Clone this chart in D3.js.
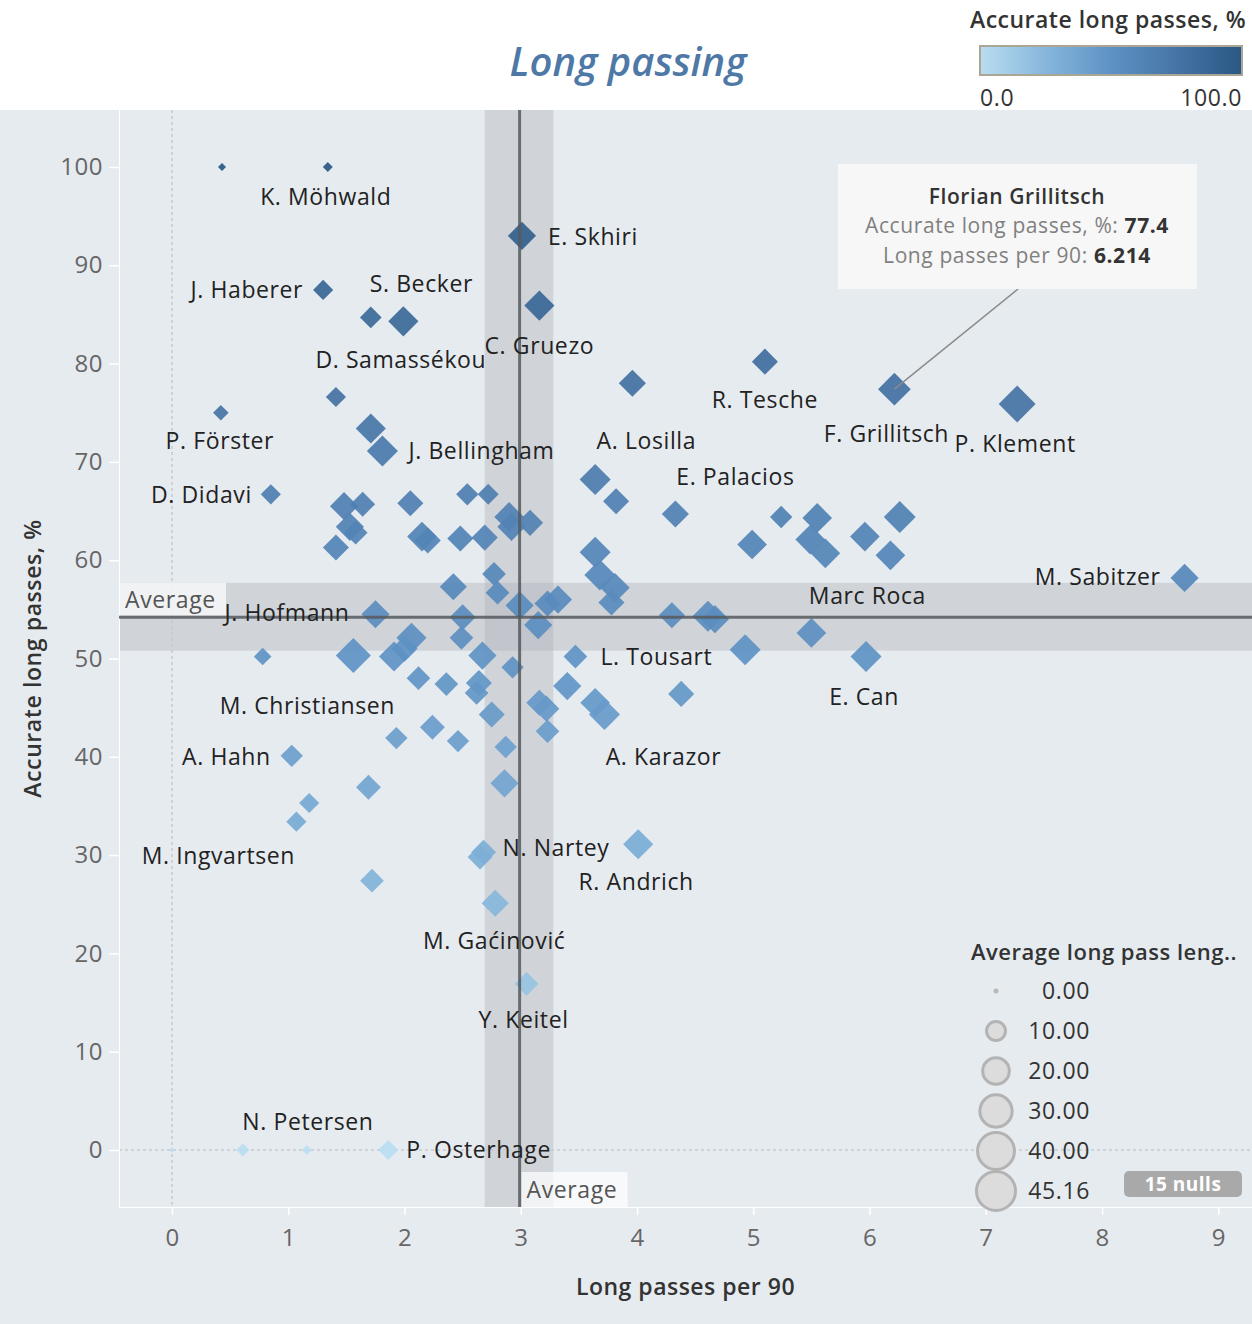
<!DOCTYPE html>
<html><head><meta charset="utf-8">
<script src="https://cdn.jsdelivr.net/npm/d3@7"></script>
<style>
body{margin:0;background:#fff;}
svg{display:block;font-family:"Open Sans",sans-serif;}
</style></head><body>
<svg id="c" width="1252" height="1324"></svg>
<script>
// ---------------- DATA ----------------
const longPasses = [0.43,1.34,3.01,1.30,1.71,1.99,3.16,5.10,3.96,6.214,7.27,1.41,0.42,1.71,1.81,0.85,3.64,3.82,4.33,5.24,5.55,5.49,5.62,4.99,5.96,6.26,6.18,8.71,5.50,5.97,4.30,4.61,4.67,4.93,4.38,4.01,
  3.08,2.90,2.92,2.54,2.72,2.05,1.48,1.64,1.53,1.58,1.41,2.15,2.20,2.48,2.69,3.64,3.68,3.81,3.78,2.77,2.80,2.42,2.50,2.49,2.99,3.23,3.32,3.15,2.67,2.93,3.47,1.75,0.78,1.56,1.91,2.06,2.00,2.12,2.36,2.64,2.62,2.75,3.16,3.22,3.23,3.40,3.64,3.72,2.24,1.93,2.46,2.87,2.86,1.03,1.69,1.18,1.07,2.68,2.65,1.72,2.78,3.05,0.00,0.61,1.16,1.86];
const accuracy = [100,100,93.0,87.5,84.7,84.3,85.9,80.2,78.0,77.4,75.9,76.6,75.0,73.4,71.1,66.7,68.2,66.0,64.7,64.4,64.3,62.1,60.7,61.6,62.4,64.4,60.5,58.2,52.6,50.2,54.4,54.3,54.0,50.9,46.4,31.1,
  63.8,64.4,63.4,66.7,66.7,65.8,65.5,65.7,63.4,62.8,61.3,62.4,62.0,62.2,62.3,60.8,58.5,57.2,55.7,58.6,56.7,57.3,54.2,52.1,55.4,55.6,56.0,53.4,50.3,49.1,50.2,54.5,50.2,50.3,50.2,52.1,51.0,48.0,47.4,47.5,46.5,44.3,45.5,44.9,42.6,47.2,45.5,44.3,43.0,41.9,41.6,41.0,37.3,40.1,36.9,35.3,33.4,30.3,29.8,27.4,25.1,16.9,0,0,0,0];
const avgLength = [1.3,2.1,24,11,13,28,28,20,22,34,45,11,6,28,30,11,30,20,22,14,27,27,27,27,27,32,27,24,27,30,20,30,24,30,20,28,
  20,27,24,14,12,20,24,18,24,16,20,27,20,20,20,30,30,27,20,16,16,22,20,16,24,20,24,24,24,14,16,24,8,40,28,28,20,16,16,20,16,20,20,20,16,24,27,30,18,14,14,14,24,14,18,11,11,18,18,16,22,16,0.5,4,2,11];
const playerNames = ["","K. Möhwald","E. Skhiri","J. Haberer","D. Samassékou","S. Becker","C. Gruezo","R. Tesche","A. Losilla","F. Grillitsch","P. Klement","","P. Förster","","J. Bellingham","D. Didavi","","","E. Palacios","","","","","","","","","M. Sabitzer","Marc Roca","E. Can","","","","","","R. Andrich",
  "","","","","","","","","","","","","","","","","","","","","","","","","","","","","","","L. Tousart","J. Hofmann","","M. Christiansen","","","","","","","","","","","","","","A. Karazor","","","","","","A. Hahn","","","M. Ingvartsen","N. Nartey","","","M. Gaćinović","Y. Keitel","","N. Petersen","","P. Osterhage"];

const xTicks = [0,1,2,3,4,5,6,7,8,9];
const yTicks = [0,10,20,30,40,50,60,70,80,90,100];
const sizeLegendValues = [0,10,20,30,40,45.16];
const colorLegendLabels = ["0.0","100.0"];
const averageX = 2.99, averageXBand = [2.69, 3.28];
const averageY = 54.2, averageYBand = [50.8, 57.7];
const highlightName = "F. Grillitsch";
const tooltipLines = [["Accurate long passes, %: ","77.4"],["Long passes per 90: ","6.214"]];
const nullsCount = 15;

// label placement (offsets from the mark, px)
const labelOffsets = {
  "K. Möhwald":[-2,30,"middle"],"E. Skhiri":[26,1,"start"],"J. Haberer":[-20,0,"end"],
  "S. Becker":[18,-37,"middle"],"D. Samassékou":[30,43,"middle"],"C. Gruezo":[0,40,"middle"],
  "R. Tesche":[0,38,"middle"],"F. Grillitsch":[-8,45,"middle"],"P. Klement":[-2,40,"middle"],
  "P. Förster":[-1,28,"middle"],"J. Bellingham":[26,0,"start"],"A. Losilla":[14,58,"middle"],
  "E. Palacios":[60,-37,"middle"],"D. Didavi":[-19,1,"end"],"M. Sabitzer":[-24,-1,"end"],
  "Marc Roca":[56,-37,"middle"],"J. Hofmann":[-26,-1,"end"],"L. Tousart":[25,0,"start"],
  "E. Can":[-2,40,"middle"],"M. Christiansen":[-46,50,"middle"],"A. Karazor":[59,42,"middle"],
  "A. Hahn":[-21,1,"end"],"M. Ingvartsen":[-78,34,"middle"],"N. Nartey":[19,-4,"start"],
  "R. Andrich":[-2,38,"middle"],"M. Gaćinović":[-1,38,"middle"],"Y. Keitel":[-3,36,"middle"],
  "N. Petersen":[65,-28,"middle"],"P. Osterhage":[18,0,"start"]
};

// ---------------- CHART ----------------
const W = 1252, H = 1324;
const pane = {l:119, r:1252, t:110, b:1207};
const svg = d3.select("#c");
const bg = "#e6ebf0";

const x = d3.scaleLinear().domain([-0.456, 9.29]).range([pane.l, pane.r]);
const y = d3.scaleLinear().domain([-5.8, 105.8]).range([pane.b, pane.t]);
const color = d3.scaleLinear().domain([0,30,50,75,100])
  .range(["#b9ddf1","#7dafd7","#5e92c4","#4674a6","#2a5783"]).interpolate(d3.interpolateRgb);
const legendDiam = d3.scalePow().exponent(0.43).domain([0,10]).range([0,22]);
const diag = v => Math.max(4, 0.88*legendDiam(v));

svg.append("rect").attr("width",W).attr("height",H).attr("fill",bg);
svg.append("rect").attr("width",W).attr("height",pane.t).attr("fill","#fff");

// bands
svg.append("rect").attr("x",x(averageXBand[0])).attr("width",x(averageXBand[1])-x(averageXBand[0]))
  .attr("y",pane.t).attr("height",pane.b-pane.t).attr("fill","#a9adb1").attr("opacity",0.36);
svg.append("rect").attr("y",y(averageYBand[1])).attr("height",y(averageYBand[0])-y(averageYBand[1]))
  .attr("x",pane.l).attr("width",pane.r-pane.l).attr("fill","#a9adb1").attr("opacity",0.36);

// zero lines
svg.append("line").attr("x1",x(0)).attr("x2",x(0)).attr("y1",pane.t).attr("y2",pane.b)
  .attr("stroke","#c6c9cc").attr("stroke-width",1.5).attr("stroke-dasharray","3,3");
svg.append("line").attr("x1",pane.l).attr("x2",pane.r).attr("y1",y(0)).attr("y2",y(0))
  .attr("stroke","#c6c9cc").attr("stroke-width",1.5).attr("stroke-dasharray","3,3");

// pane borders
svg.append("line").attr("x1",pane.l+0.5).attr("x2",pane.l+0.5).attr("y1",pane.t).attr("y2",pane.b).attr("stroke","#fff");
svg.append("line").attr("x1",pane.l).attr("x2",pane.r).attr("y1",pane.b+0.5).attr("y2",pane.b+0.5).attr("stroke","#fff");

// axes
const xAxis = svg.append("g").attr("transform",`translate(0,${pane.b})`)
  .call(d3.axisBottom(x).tickValues(xTicks).tickSize(8).tickPadding(14).tickFormat(d3.format("d")));
const yAxis = svg.append("g").attr("transform",`translate(${pane.l},0)`)
  .call(d3.axisLeft(y).tickValues(yTicks).tickSize(10).tickPadding(6).tickFormat(d3.format("d")));
[xAxis,yAxis].forEach(g=>{
  g.select(".domain").remove();
  g.selectAll(".tick line").attr("stroke","#fff").attr("stroke-width",1.5);
  g.selectAll(".tick text").attr("fill","#666").attr("font-size",24).attr("letter-spacing","0.5px").attr("font-family","Open Sans");
});

// axis titles
svg.append("text").attr("x",(pane.l+pane.r)/2).attr("y",1287).attr("dy","0.35em").attr("text-anchor","middle")
  .attr("font-size",23).attr("letter-spacing","0.5px").attr("font-weight",600).attr("fill","#333").text("Long passes per 90");
svg.append("text").attr("transform",`translate(33,${(pane.t+pane.b)/2}) rotate(-90)`).attr("dy","0.35em")
  .attr("text-anchor","middle").attr("font-size",23).attr("letter-spacing","0.6px").attr("font-weight",600).attr("fill","#333").text("Accurate long passes, %");

// marks
const pts = longPasses.map((v,i)=>({x:v,y:accuracy[i],s:avgLength[i],name:playerNames[i]}));
svg.append("g").selectAll("path").data(pts).join("path")
  .attr("d",d=>{const cx=x(d.x),cy=y(d.y),h=diag(d.s)/2;return `M${cx},${cy-h}L${cx+h},${cy}L${cx},${cy+h}L${cx-h},${cy}Z`;})
  .attr("fill",d=>color(d.y)).attr("opacity",0.92);

// reference lines (on top)
svg.append("line").attr("x1",x(averageX)).attr("x2",x(averageX)).attr("y1",pane.t).attr("y2",pane.b)
  .attr("stroke","#555a5f").attr("stroke-width",3).attr("opacity",0.85);
svg.append("line").attr("x1",pane.l).attr("x2",pane.r).attr("y1",y(averageY)).attr("y2",y(averageY))
  .attr("stroke","#555a5f").attr("stroke-width",3).attr("opacity",0.85);

// average labels
const avgY = y(averageYBand[1]);
svg.append("rect").attr("x",pane.l+1).attr("y",avgY).attr("width",106).attr("height",y(averageY)-avgY-2).attr("fill","#fff").attr("opacity",0.7);
svg.append("text").attr("x",pane.l+6).attr("y",avgY+17).attr("dy","0.35em").attr("font-size",23).attr("letter-spacing","0.6px").attr("fill","#555").text("Average");
svg.append("rect").attr("x",x(averageX)+2).attr("y",1172).attr("width",106).attr("height",pane.b-1172).attr("fill","#fff").attr("opacity",0.7);
svg.append("text").attr("x",x(averageX)+7).attr("y",1190).attr("dy","0.35em").attr("font-size",23).attr("letter-spacing","0.6px").attr("fill","#555").text("Average");

// labels
svg.append("g").selectAll("text").data(pts.filter(d=>d.name && labelOffsets[d.name])).join("text")
  .attr("x",d=>x(d.x)+labelOffsets[d.name][0]).attr("y",d=>y(d.y)+labelOffsets[d.name][1])
  .attr("dy","0.35em").attr("text-anchor",d=>labelOffsets[d.name][2])
  .attr("font-size",23).attr("letter-spacing","0.6px").attr("fill","#222").text(d=>d.name);

// title
svg.append("text").attr("x",628).attr("y",62).attr("dy","0.35em").attr("text-anchor","middle")
  .attr("font-size",40).attr("font-style","italic").attr("font-weight",600).attr("fill","#4e79a7").text("Long passing");

// color legend
svg.append("text").attr("x",1108).attr("y",20).attr("dy","0.35em").attr("text-anchor","middle")
  .attr("font-size",23).attr("letter-spacing","0.5px").attr("font-weight",600).attr("fill","#333").text("Accurate long passes, %");
const grad = svg.append("defs").append("linearGradient").attr("id","g1");
d3.range(0,101,10).forEach(v=>grad.append("stop").attr("offset",v+"%").attr("stop-color",color(v)));
svg.append("rect").attr("x",980).attr("y",46).attr("width",262).attr("height",29).attr("fill","url(#g1)")
  .attr("stroke","#aaa594").attr("stroke-width",2);
svg.append("text").attr("x",980).attr("y",98).attr("dy","0.35em").attr("font-size",23).attr("letter-spacing","0.6px").attr("fill","#333").text(colorLegendLabels[0]);
svg.append("text").attr("x",1242).attr("y",98).attr("dy","0.35em").attr("text-anchor","end").attr("font-size",23).attr("letter-spacing","0.6px").attr("fill","#333").text(colorLegendLabels[1]);

// size legend
svg.append("text").attr("x",1104).attr("y",952).attr("dy","0.35em").attr("text-anchor","middle")
  .attr("font-size",22).attr("letter-spacing","0.5px").attr("font-weight",600).attr("fill","#333").text("Average long pass leng..");
const sl = svg.append("g").selectAll("g").data(sizeLegendValues).join("g")
  .attr("transform",(d,i)=>`translate(996,${991+i*40})`);
sl.append("circle").attr("r",d=>Math.max(2.5,legendDiam(d)/2-1.5)).attr("fill",d=>d===0?"#b8b8b8":"#dcdcdc")
  .attr("stroke","#b3b3b3").attr("stroke-width",d=>d===0?0:3);
sl.append("text").attr("x",94).attr("dy","0.35em").attr("text-anchor","end").attr("font-size",23).attr("letter-spacing","0.6px").attr("fill","#333")
  .text(d=>d3.format(".2f")(d));

// nulls badge
svg.append("rect").attr("x",1124).attr("y",1171).attr("width",118).attr("height",26).attr("rx",5).attr("fill","#a9a9a9");
svg.append("text").attr("x",1183).attr("y",1184).attr("dy","0.35em").attr("text-anchor","middle")
  .attr("font-size",19).attr("letter-spacing","0.5px").attr("font-weight",700).attr("fill","#fff").text(nullsCount+" nulls");

// tooltip annotation
const hp = pts.find(d=>d.name===highlightName);
svg.append("line").attr("x1",1018).attr("y1",289).attr("x2",x(hp.x)).attr("y2",y(hp.y)).attr("stroke","#8a8a8a").attr("stroke-width",1.5);
svg.append("rect").attr("x",838).attr("y",164).attr("width",359).attr("height",125).attr("fill","#f7f7f7");
svg.append("text").attr("x",1017).attr("y",197).attr("dy","0.35em").attr("text-anchor","middle")
  .attr("font-size",21).attr("letter-spacing","0.6px").attr("font-weight",600).attr("fill","#333").text("Florian Grillitsch");
tooltipLines.forEach((t,i)=>{
  const tx = svg.append("text").attr("x",1017).attr("y",226+i*30).attr("dy","0.35em").attr("text-anchor","middle")
    .attr("font-size",21).attr("letter-spacing","0.6px");
  tx.append("tspan").attr("fill","#808080").text(t[0]);
  tx.append("tspan").attr("fill","#333").attr("font-weight",700).text(t[1]);
});
</script>
</body></html>
